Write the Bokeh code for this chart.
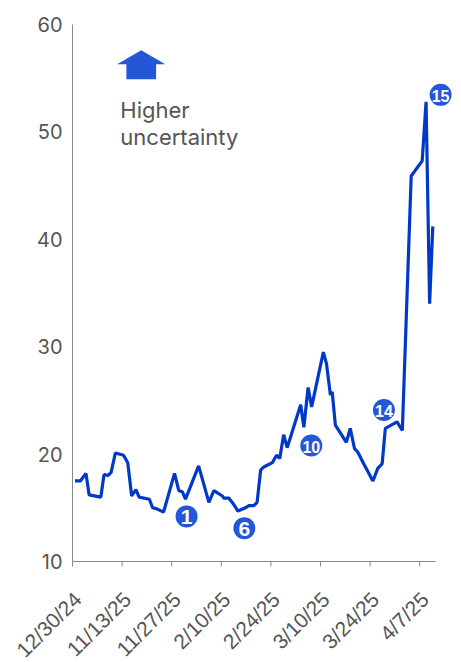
import math
from bokeh.plotting import figure
from bokeh.models import Range1d, ColumnDataSource
from bokeh.embed import file_html
from bokeh.resources import INLINE
from bokeh.core.properties import value

# Days since 12/30/24 and index level
days = [0.7, 2.2, 3.8, 4.7, 8.0, 8.9, 10.0, 10.9, 12.1, 14.4, 15.6, 16.7, 17.9, 18.8,
        21.7, 22.6, 23.8, 25.7, 28.8, 30.0, 31.0, 31.9, 35.6, 38.5, 39.9, 42.3, 42.7,
        44.1, 45.1, 46.7, 48.8, 49.8, 51.2, 52.1, 53.1, 54.0, 56.4, 57.6, 58.5, 59.6,
        60.6, 64.4, 65.3, 66.5, 67.5, 70.8, 71.7, 72.8, 73.3, 74.2, 77.3, 78.4, 79.6,
        80.5, 82.2, 84.8, 86.2, 87.4, 88.3, 91.6, 93.1, 95.6, 98.7, 99.8, 100.8, 101.7]
vix = [17.5, 17.5, 18.2, 16.2, 16.0, 18.1, 18.0, 18.3, 20.1, 19.9, 19.2, 16.1, 16.7, 16.0,
       15.8, 15.0, 14.9, 14.6, 18.2, 16.6, 16.5, 15.8, 18.9, 15.5, 16.6, 16.1, 15.9,
       15.9, 15.5, 14.7, 15.0, 15.2, 15.2, 15.5, 18.5, 18.8, 19.2, 19.9, 19.6, 21.8,
       20.6, 24.6, 22.5, 26.2, 24.4, 29.5, 28.4, 25.5, 25.8, 22.7, 21.1, 22.4, 20.5,
       20.2, 19.1, 17.5, 18.7, 19.1, 22.4, 23.0, 22.2, 45.9, 47.3, 52.8, 34.0, 41.2]

tick_days = [0, 14, 28, 42, 56, 70, 84, 98]
tick_labels = ["12/30/24", "11/13/25", "11/27/25", "2/10/25", "2/24/25",
               "3/10/25", "3/24/25", "4/7/25"]
y_ticks = [10, 20, 30, 40, 50, 60]

marker_labels = ["1", "6", "10", "14", "15"]
marker_days = [32.2, 48.5, 67.4, 87.9, 103.9]
marker_vals = [14.2, 13.1, 20.8, 24.1, 53.45]

note_lines = ["Higher", "uncertainty"]

LINE = "#0038c8"
BADGE = "#2457d8"
GREY = "#555555"
AXIS = "#888888"

# The whole canvas is the frame; axes are drawn as glyphs so nothing is clipped.
W, H = 461, 662
LEFT, TOP = 72, 24            # pixel position of the axes' origin corner
PLOT_H = 537                  # pixels spanned by 10..60
X_AXIS_END = 102.5
Y_MIN, Y_MAX = 10, 60
px_per_day = 347.2 / 98
px_per_unit = PLOT_H / (Y_MAX - Y_MIN)

x_start = -LEFT / px_per_day
x_end = (W - LEFT) / px_per_day
y_end = Y_MAX + TOP / px_per_unit
y_start = Y_MAX - (H - TOP) / px_per_unit

p = figure(width=W, height=H, x_range=Range1d(x_start, x_end), y_range=Range1d(y_start, y_end),
           output_backend="svg", toolbar_location=None, x_axis_location=None,
           y_axis_location=None, min_border=0)
p.outline_line_color = None
p.grid.visible = False
p.background_fill_color = "white"
p.border_fill_color = "white"

# axes
p.segment(x0=[0], y0=[Y_MIN], x1=[X_AXIS_END], y1=[Y_MIN], line_color=AXIS, line_width=1)
p.segment(x0=[0], y0=[Y_MIN], x1=[0], y1=[Y_MAX], line_color=AXIS, line_width=1)
tick_len = 5 / px_per_unit
p.segment(x0=tick_days, y0=[Y_MIN] * len(tick_days), x1=tick_days,
          y1=[Y_MIN - tick_len] * len(tick_days), line_color=AXIS, line_width=1)

lab_x = [d - 3 / px_per_day for d in tick_days]
lab_y = [Y_MIN - 26 / px_per_unit] * len(tick_days)
p.text(lab_x, lab_y, text=tick_labels, angle=math.pi / 4, text_align="right",
       text_baseline="top", text_font=value("Liberation Sans"), text_font_size="21px",
       text_color=GREY)

p.text([-10 / px_per_day] * len(y_ticks), y_ticks, text=[str(v) for v in y_ticks],
       text_align="right", text_baseline="middle", text_font=value("Inter"),
       text_font_size="20px", text_color=GREY)

# series
p.line(days, vix, line_color=LINE, line_width=3.2)

# badges
fs = ["21px" if len(t) == 1 else "16px" for t in marker_labels]
src = ColumnDataSource(dict(x=marker_days, y=marker_vals, t=marker_labels, fs=fs))
p.scatter("x", "y", source=src, size=22, fill_color=BADGE, line_color=None)
p.text("x", "y", text="t", source=src, text_color="white", text_font=value("Liberation Sans"),
       text_font_style="bold", text_font_size="fs", text_align="center", text_baseline="middle",
       y_offset=1)

# arrow (house shape) in data space
ax, tip, head, base = 19.4, 57.6, 56.3, 54.9
hw, sw = 6.8, 4.2
p.patch([ax - hw, ax, ax + hw, ax + sw, ax + sw, ax - sw, ax - sw],
        [head, tip, head, head, base, base, head], fill_color=BADGE, line_color=None)

p.text([13.5, 13.5], [52.0, 49.5], text=note_lines, text_color=GREY,
       text_font=value("Inter"), text_font_size="22px", text_baseline="alphabetic")

open("out.html", "w").write(file_html(p, INLINE))
